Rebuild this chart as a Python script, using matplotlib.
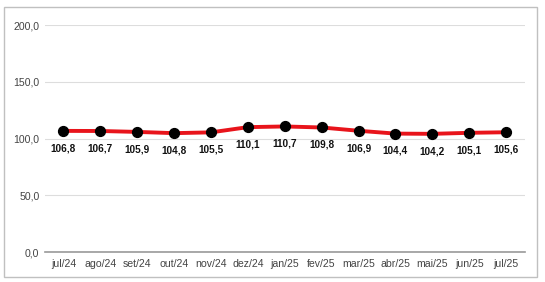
import matplotlib.pyplot as plt
from matplotlib.patches import Rectangle

meses = ["jul/24", "ago/24", "set/24", "out/24", "nov/24", "dez/24", "jan/25",
         "fev/25", "mar/25", "abr/25", "mai/25", "jun/25", "jul/25"]
valores = [106.8, 106.7, 105.9, 104.8, 105.5, 110.1, 110.7,
           109.8, 106.9, 104.4, 104.2, 105.1, 105.6]
yticks = [0, 50, 100, 150, 200]

plt.rcParams['font.family'] = ['Liberation Sans', 'DejaVu Sans']

fig = plt.figure(figsize=(5.45, 2.82), dpi=100)
# moldura externa
fig.patches.append(Rectangle((4 / 545, 5 / 282), 533 / 545, 270 / 282,
                             transform=fig.transFigure, fill=False,
                             edgecolor="#c0c0c0", linewidth=1.0))

ax = fig.add_axes([0.0826, 0.106, 0.88, 0.805])
x = list(range(len(meses)))
ax.plot(x, valores, color="#e8141b", linewidth=2.8, zorder=3)
ax.scatter(x, valores, s=50, color="black", zorder=4)

for xi, v in zip(x, valores):
    ax.annotate(f"{v:.1f}".replace(".", ","), (xi, v), xytext=(0, -12.5),
                textcoords="offset points", ha="center", va="center",
                fontsize=7.2, fontweight="bold", color="#111111")

ax.set_xlim(-0.5, len(meses) - 0.5)
ax.set_ylim(0, 200)
ax.set_xticks(x)
ax.set_xticklabels(meses, fontsize=7.6, color="#444444")
ax.set_yticks(yticks)
ax.set_yticklabels([f"{t:.1f}".replace(".", ",") for t in yticks],
                   fontsize=7.6, color="#444444")
ax.tick_params(axis="y", length=0, pad=4)
ax.tick_params(axis="x", length=0, pad=5)
ax.grid(axis="y", color="#dddddd", linewidth=0.8)
ax.set_axisbelow(True)
for s in ["top", "right", "left"]:
    ax.spines[s].set_visible(False)
ax.spines["bottom"].set_color("#999999")
ax.spines["bottom"].set_linewidth(1.2)

fig.savefig("out.png", dpi=100)
